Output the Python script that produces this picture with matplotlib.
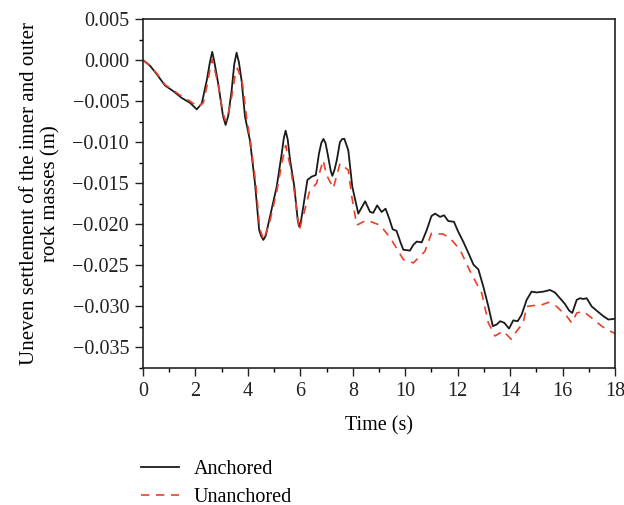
import matplotlib
matplotlib.use("Agg")
import matplotlib.pyplot as plt
from matplotlib.ticker import MultipleLocator

plt.rcParams['font.family'] = ['Liberation Serif', 'DejaVu Serif']

# Anchored series (time s, settlement m)
t_anch = [0.0, 0.27, 0.52, 0.84, 1.16, 1.47, 1.79, 2.05, 2.24, 2.43, 2.55, 2.64, 2.72, 2.87,
          3.05, 3.15, 3.25, 3.38, 3.48, 3.57, 3.66, 3.76, 3.89, 4.08, 4.27, 4.43, 4.50, 4.59,
          4.68, 4.84, 5.10, 5.29, 5.37, 5.44, 5.52, 5.61, 5.77, 5.90, 5.96, 6.03, 6.11, 6.27,
          6.43, 6.59, 6.71, 6.80, 6.88, 6.96, 7.04, 7.16, 7.22, 7.30, 7.39, 7.51, 7.60, 7.68,
          7.83, 7.98, 8.21, 8.47, 8.66, 8.78, 8.93, 9.10, 9.25, 9.39, 9.52, 9.67, 9.83, 9.93,
          10.18, 10.31, 10.44, 10.63, 10.82, 11.00, 11.14, 11.33, 11.48, 11.64, 11.86, 12.02,
          12.21, 12.41, 12.60, 12.79, 12.98, 13.17, 13.34, 13.49, 13.62, 13.78, 13.96, 14.12,
          14.29, 14.44, 14.63, 14.82, 15.01, 15.27, 15.52, 15.71, 15.90, 16.09, 16.25, 16.37,
          16.54, 16.67, 16.79, 16.92, 17.11, 17.37, 17.56, 17.75, 18.0]
y_anch = [0.0, -0.0007, -0.0017, -0.0031, -0.0038, -0.0046, -0.0052, -0.0060, -0.0053, -0.0025,
          -0.0003, 0.0010, -0.0002, -0.0029, -0.0068, -0.0079, -0.0068, -0.0037, -0.0005, 0.0009,
          -0.0003, -0.0025, -0.0069, -0.0098, -0.0150, -0.0207, -0.0214, -0.0219, -0.0214,
          -0.0191, -0.0154, -0.0114, -0.0095, -0.0086, -0.0097, -0.0122, -0.0154, -0.0195,
          -0.0203, -0.0195, -0.0179, -0.0146, -0.0142, -0.0140, -0.0114, -0.0101, -0.0096,
          -0.0101, -0.0114, -0.0135, -0.0141, -0.0134, -0.0122, -0.0100, -0.0096, -0.0096,
          -0.0110, -0.0154, -0.0187, -0.0172, -0.0185, -0.0186, -0.0177, -0.0185, -0.0181,
          -0.0193, -0.0206, -0.0208, -0.0223, -0.0231, -0.0232, -0.0225, -0.0221, -0.0222,
          -0.0207, -0.0190, -0.0187, -0.0191, -0.0189, -0.0196, -0.0197, -0.0209, -0.0221,
          -0.0235, -0.0249, -0.0255, -0.0276, -0.0300, -0.0324, -0.0322, -0.0318, -0.0320,
          -0.0327, -0.0317, -0.0318, -0.0310, -0.0292, -0.0282, -0.0283, -0.0282, -0.0280,
          -0.0283, -0.0290, -0.0297, -0.0305, -0.0308, -0.0292, -0.0290, -0.0291, -0.0290,
          -0.0300, -0.0307, -0.0312, -0.0316, -0.0315]

# Unanchored series
t_unan = [0.0, 0.27, 0.52, 0.84, 1.16, 1.47, 1.79, 2.11, 2.30, 2.45, 2.56, 2.64, 2.72, 2.87,
          3.05, 3.15, 3.25, 3.38, 3.52, 3.60, 3.68, 3.80, 3.95, 4.10, 4.30, 4.45, 4.60, 4.85,
          5.10, 5.30, 5.44, 5.62, 5.77, 5.96, 6.15, 6.35, 6.62, 6.87, 7.00, 7.26, 7.51, 7.83,
          7.96, 8.15, 8.53, 9.04, 9.42, 9.93, 10.31, 10.75, 11.00, 11.45, 11.71, 12.09, 12.47,
          12.92, 13.17, 13.42, 13.74, 14.04, 14.25, 14.50, 14.63, 14.88, 15.14, 15.46, 15.77,
          16.16, 16.35, 16.54, 16.79, 17.11, 17.49, 17.81, 18.0]
y_unan = [0.0, -0.0007, -0.0016, -0.0030, -0.0037, -0.0044, -0.0050, -0.0057, -0.0052, -0.0030,
          -0.0010, 0.0001, -0.0010, -0.0030, -0.0065, -0.0074, -0.0066, -0.0045, -0.0017,
          -0.0010, -0.0017, -0.0030, -0.0070, -0.0100, -0.0150, -0.0205, -0.0219, -0.0195,
          -0.0160, -0.0125, -0.0104, -0.0130, -0.0160, -0.0207, -0.0185, -0.0160, -0.0150,
          -0.0122, -0.0140, -0.0156, -0.0126, -0.0134, -0.0166, -0.0201, -0.0195, -0.0201,
          -0.0216, -0.0243, -0.0247, -0.0233, -0.0211, -0.0212, -0.0217, -0.0231, -0.0257,
          -0.0284, -0.0320, -0.0336, -0.0330, -0.0340, -0.0330, -0.0320, -0.0300, -0.0299,
          -0.0299, -0.0295, -0.0300, -0.0312, -0.0320, -0.0308, -0.0306, -0.0314, -0.0324,
          -0.0330, -0.0333]

x_ticks = [0, 2, 4, 6, 8, 10, 12, 14, 16, 18]
y_ticks = [0.005, 0.000, -0.005, -0.010, -0.015, -0.020, -0.025, -0.030, -0.035]
y_tick_labels = ["0.005", "0.000", "\u22120.005", "\u22120.010", "\u22120.015", "\u22120.020",
                 "\u22120.025", "\u22120.030", "\u22120.035"]

fig = plt.figure(figsize=(6.24, 5.05), dpi=100)
ax = fig.add_axes([143/624, 1 - 368/505, (615 - 143)/624, (368 - 19)/505])

l1, = ax.plot(t_anch, y_anch, color='#1a1a1a', lw=1.3, label='Anchored')
l2, = ax.plot(t_unan, y_unan, color='#e8402a', lw=1.2, dashes=(5, 4), label='Unanchored')

ax.set_xlim(0, 18)
ax.set_ylim(-0.0375, 0.005)
ax.set_xticks(x_ticks)
ax.set_yticks(y_ticks)
ax.set_yticklabels(y_tick_labels)
ax.xaxis.set_minor_locator(MultipleLocator(1))
ax.yaxis.set_minor_locator(MultipleLocator(0.0025))
ax.tick_params(which='major', direction='out', length=6, width=1, labelsize=14.5,
               colors='#222222', pad=4)
ax.tick_params(which='minor', direction='out', length=3, width=1)
for s in ax.spines.values():
    s.set_linewidth(1.2)
    s.set_color('#222222')

ax.set_xlabel('Time (s)', fontsize=14.5, labelpad=11)
ax.set_ylabel('Uneven settlement of the inner and outer\nrock masses (m)', fontsize=15,
              labelpad=9, linespacing=1.15)

fig.legend(handles=[l1, l2], loc='upper left', bbox_to_anchor=(133/624, 1 - 452/505),
           frameon=False, fontsize=14.5, handlelength=1.9, labelspacing=0.45,
           handletextpad=0.7, borderaxespad=0.0)

fig.savefig('out.png', dpi=100)
